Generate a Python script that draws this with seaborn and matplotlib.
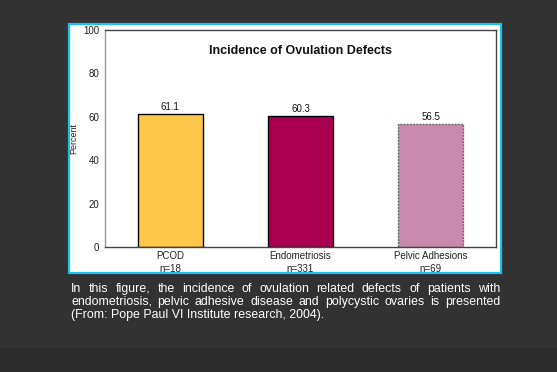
import matplotlib
matplotlib.use("Agg")
import matplotlib.pyplot as plt
import matplotlib.patches as mpatches
import seaborn as sns
import pandas as pd

# chart data
categories = ["PCOD", "Endometriosis", "Pelvic Adhesions"]
sample_sizes = ["n=18", "n=331", "n=69"]
percent = [61.1, 60.3, 56.5]
bar_colors = ["#FFC84B", "#A8004F", "#CA8AAE"]
y_ticks = [0, 20, 40, 60, 80, 100]
title = "Incidence of Ovulation Defects"
caption_lines = [
    "In this figure, the incidence of ovulation related defects of patients with",
    "endometriosis, pelvic adhesive disease and polycystic ovaries is presented",
    "(From: Pope Paul VI Institute research, 2004).",
]

sns.set_style("white")
plt.rcParams["font.family"] = ["Liberation Sans", "DejaVu Sans"]

W, H = 557, 372
fig = plt.figure(figsize=(W / 100, H / 100), dpi=100)
fig.patch.set_facecolor("#323232")

# darker strip at the bottom of the slide
fig.patches.append(mpatches.Rectangle((0, 0), 1, 24 / H, transform=fig.transFigure,
                                      facecolor="#2c2c2c", edgecolor="none", zorder=0))

# white chart panel with cyan frame
px0, py0, px1, py1 = 69, 24, 501, 273
fig.patches.append(mpatches.Rectangle((px0 / W, 1 - py1 / H), (px1 - px0) / W, (py1 - py0) / H,
                                      transform=fig.transFigure, facecolor="white",
                                      edgecolor="#19c3ea", linewidth=1.6, zorder=1))

ax = fig.add_axes([105 / W, 1 - 247 / H, 391 / W, 217 / H])
ax.set_zorder(2)
df = pd.DataFrame({"cat": categories, "pct": percent})
sns.barplot(data=df, x="cat", y="pct", hue="cat", palette=bar_colors, legend=False,
            width=0.5, edgecolor="black", linewidth=1.0, saturation=1, ax=ax)
ax.patches[2].set_edgecolor("#666666")
ax.patches[2].set_linestyle((0, (1.5, 0.8)))

for i, v in enumerate(percent):
    ax.text(i, v + 1.0, f"{v}", ha="center", va="bottom", fontsize=7, color="#111111")

ax.set_xlim(-0.5, 2.5)
ax.set_ylim(0, 100)
ax.set_yticks(y_ticks)
ax.set_yticklabels([str(t) for t in y_ticks], fontsize=7, color="#222222")
ax.set_xticks(range(len(categories)))
ax.set_xticklabels([f"{c}\n{n}" for c, n in zip(categories, sample_sizes)],
                   fontsize=7, color="#222222", linespacing=1.35)
ax.set_xticks([0.5, 1.5, 2.5], minor=True)
ax.tick_params(axis="x", which="major", length=0, pad=3)
ax.tick_params(axis="x", which="minor", length=3, width=0.8, color="#555555", direction="out")
ax.tick_params(axis="y", length=3, width=0.8, color="#555555", direction="out", pad=1)
ax.set_xlabel("")
ax.set_ylabel("Percent", fontsize=6.5, color="#222222", labelpad=4)
for side in ["top", "right", "bottom"]:
    ax.spines[side].set_visible(True)
    ax.spines[side].set_color("#444444")
    ax.spines[side].set_linewidth(1.0)
ax.spines["left"].set_color("#999999")
ax.spines["left"].set_linestyle((0, (1, 1)))
ax.spines["left"].set_linewidth(1.0)

ax.text(0.5, 0.905, title, transform=ax.transAxes, ha="center", va="center",
        fontsize=9, fontweight="bold", color="#111111")

# justified caption below the panel
fig.canvas.draw()
renderer = fig.canvas.get_renderer()
cx0, cx1 = 71 / W, 500 / W
line_y = [289, 302, 315]
cap_kw = dict(fontsize=8.9, color="white", va="center", ha="left")
for k, line in enumerate(caption_lines):
    y = 1 - line_y[k] / H
    if k == len(caption_lines) - 1:
        fig.text(cx0, y, line, **cap_kw)
        continue
    words = line.split(" ")
    widths = []
    for w in words:
        t = fig.text(0, 0, w, **cap_kw)
        bb = t.get_window_extent(renderer)
        widths.append(bb.width / W)
        t.remove()
    gap = (cx1 - cx0 - sum(widths)) / (len(words) - 1)
    x = cx0
    for w, wd in zip(words, widths):
        fig.text(x, y, w, **cap_kw)
        x += wd + gap

fig.savefig("out.png", dpi=100, facecolor=fig.get_facecolor())
